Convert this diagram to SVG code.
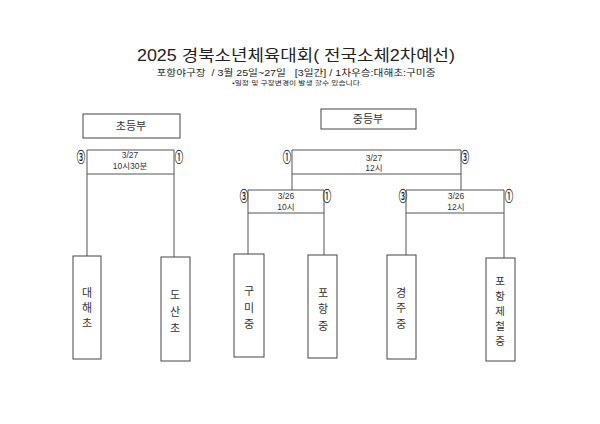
<svg xmlns="http://www.w3.org/2000/svg" width="600" height="424" viewBox="0 0 600 424">
<style>
.t{font-family:"Liberation Sans","Noto Sans CJK KR",sans-serif;fill:#222}
.k{font-family:"Noto Sans CJK KR","Liberation Sans",sans-serif;fill:#333}
.ln{stroke:#555;stroke-width:1;fill:none}
.bx{stroke:#444;stroke-width:1;fill:#fff}
.c{font-family:"Noto Sans CJK KR",sans-serif;font-size:14px;fill:#222;stroke:#222;stroke-width:0.3;text-anchor:middle;dominant-baseline:central}
.m{font-family:"Liberation Sans","Noto Sans CJK KR",sans-serif;font-size:8.5px;fill:#333;text-anchor:middle}
.v{font-family:"Noto Sans CJK KR",sans-serif;font-size:11px;fill:#333;text-anchor:middle;dominant-baseline:central}
.vs{font-size:10.5px}
</style>
<rect width="600" height="424" fill="#fff"/>
<g id="title">
<text class="t" x="296" y="61" font-size="16" text-anchor="middle" textLength="318" lengthAdjust="spacingAndGlyphs">2025 경북소년체육대회( 전국소체2차예선)</text>
<text class="t" x="296" y="76" font-size="9" text-anchor="middle" textLength="279" lengthAdjust="spacingAndGlyphs" xml:space="preserve">포항야구장  / 3월 25일~27일   [3일간] / 1차우승:대해초:구미중</text>
<text class="t" x="297" y="85" font-size="6" text-anchor="middle" textLength="130" lengthAdjust="spacingAndGlyphs">•일정 및 구장변경이 발생 할수 있습니다.</text>
</g>
<g id="label-elem">
<rect class="bx" x="83" y="114" width="97" height="24"/>
<text class="k" x="131" y="130" font-size="11" text-anchor="middle">초등부</text>
</g>
<g id="label-mid">
<rect class="bx" x="321" y="109" width="95" height="20"/>
<text class="k" x="368" y="123" font-size="11" text-anchor="middle">중등부</text>
</g>
<g id="connectors">
<path class="ln" d="M87,256 V150 H174 V257 M87,174 H174"/>
<path class="ln" d="M292,150 H461 M292,174 H461 M292,150 V190 M461,150 V190"/>
<path class="ln" d="M248,254 V190 H324 V255 M248,213 H324"/>
<path class="ln" d="M406,255 V190 H504 V258 M406,213 H504"/>
</g>
<g id="match-elem">
<text class="m" x="130" y="158">3/27</text>
<text class="m" x="130" y="169">10시30분</text>
<text class="c" transform="translate(81,156) scale(0.6,1)">③</text>
<text class="c" transform="translate(179,156) scale(0.6,1)">①</text>
</g>
<g id="match-final">
<text class="m" x="374" y="161">3/27</text>
<text class="m" x="374" y="171">12시</text>
<text class="c" transform="translate(287,156) scale(0.6,1)">①</text>
<text class="c" transform="translate(465,156) scale(0.6,1)">③</text>
</g>
<g id="match-semi1">
<text class="m" x="286" y="199">3/26</text>
<text class="m" x="286" y="210">10시</text>
<text class="c" transform="translate(244,195) scale(0.6,1)">③</text>
<text class="c" transform="translate(327,195) scale(0.6,1)">①</text>
</g>
<g id="match-semi2">
<text class="m" x="456" y="199">3/26</text>
<text class="m" x="456" y="210">12시</text>
<text class="c" transform="translate(403,195) scale(0.6,1)">③</text>
<text class="c" transform="translate(509,195) scale(0.6,1)">①</text>
</g>
<g id="team-daehae">
<rect class="bx" x="73" y="256" width="28" height="103"/>
<text class="v" x="87" y="292">대</text><text class="v" x="87" y="307">해</text><text class="v" x="87" y="322">초</text>
</g>
<g id="team-dosan">
<rect class="bx" x="161" y="257" width="29" height="104"/>
<text class="v" x="175" y="294">도</text><text class="v" x="175" y="311">산</text><text class="v" x="175" y="327">초</text>
</g>
<g id="team-gumi">
<rect class="bx" x="234" y="254" width="30" height="103"/>
<text class="v" x="249" y="290">구</text><text class="v" x="249" y="307">미</text><text class="v" x="249" y="323">중</text>
</g>
<g id="team-pohang">
<rect class="bx" x="308" y="255" width="29" height="103"/>
<text class="v" x="323" y="292">포</text><text class="v" x="323" y="308">항</text><text class="v" x="323" y="325">중</text>
</g>
<g id="team-gyeongju">
<rect class="bx" x="387" y="255" width="29" height="104"/>
<text class="v" x="401" y="292">경</text><text class="v" x="401" y="307">주</text><text class="v" x="401" y="323">중</text>
</g>
<g id="team-posco">
<rect class="bx" x="486" y="258" width="29" height="103"/>
<text class="v vs" x="500" y="280">포</text><text class="v vs" x="500" y="295">항</text><text class="v vs" x="500" y="310">제</text><text class="v vs" x="500" y="325">철</text><text class="v vs" x="500" y="340">중</text>
</g>
</svg>
